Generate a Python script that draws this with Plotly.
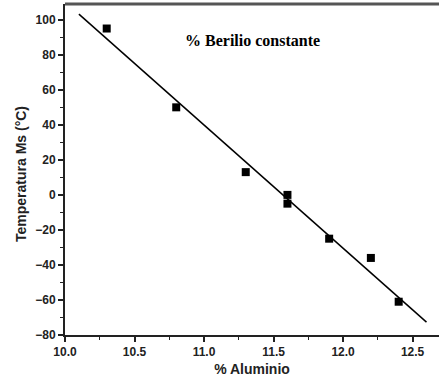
import numpy as np
import plotly.graph_objects as go

aluminio = [10.3, 10.8, 11.3, 11.6, 11.6, 11.9, 12.2, 12.4]
temperatura_ms = [95, 50, 13, 0, -5, -25, -36, -61]
fit_x = [10.1, 12.6]

slope, intercept = np.polyfit(aluminio, temperatura_ms, 1)
fit_y = [slope * x + intercept for x in fit_x]

x_ticks = [10.0, 10.5, 11.0, 11.5, 12.0, 12.5]
x_tick_labels = ["10.0", "10.5", "11.0", "11.5", "12.0", "12.5"]
y_ticks = [-80, -60, -40, -20, 0, 20, 40, 60, 80, 100]

fig = go.Figure()
fig.add_trace(go.Scatter(x=fit_x, y=fit_y, mode="lines",
                         line=dict(color="black", width=1.5), hoverinfo="skip"))
fig.add_trace(go.Scatter(x=aluminio, y=temperatura_ms, mode="markers",
                         marker=dict(symbol="square", size=8, color="black")))

sans = "Arial, Liberation Sans, sans-serif"
tick_font = dict(family=sans, size=12, color="#222", weight="bold")
title_font = dict(family=sans, size=14, color="#222", weight="bold")
PW, PH = 374, 331  # plot area size in px (439-65, 387-4-52)
fig.update_layout(
    width=439, height=387,
    margin=dict(l=65, r=0, t=4, b=52),
    paper_bgcolor="white", plot_bgcolor="white",
    showlegend=False,
    xaxis=dict(range=[10.0, 12.69], tickvals=x_ticks, ticktext=x_tick_labels,
               automargin=False,
               showgrid=False, zeroline=False, showline=True, linecolor="#222", linewidth=2,
               ticks="outside", ticklen=5, tickwidth=1.5, tickcolor="#222",
               tickfont=tick_font,
               minor=dict(dtick=0.25, ticks="outside", ticklen=3, tickwidth=1.2, tickcolor="#222"),
               title=dict(text="% Aluminio", font=title_font, standoff=6)),
    yaxis=dict(range=[-80, 109], tickvals=y_ticks,
               automargin=False,
               showgrid=False, zeroline=False, showline=True, linecolor="#222", linewidth=2,
               ticks="outside", ticklen=5, tickwidth=1.5, tickcolor="#222",
               tickfont=tick_font,
               minor=dict(dtick=10, ticks="outside", ticklen=3, tickwidth=1.2, tickcolor="#222")),
    annotations=[
        dict(text="% Berilio constante", x=(252 - 65) / PW, y=1 - (30 - 4) / PH,
             xref="paper", yref="paper", showarrow=False,
             font=dict(family="Liberation Serif, serif", size=16, color="black", weight="bold")),
        dict(text="Temperatura Ms (°C)", x=(21 - 65) / PW, y=1 - (174 - 4) / PH,
             xref="paper", yref="paper", showarrow=False, textangle=-90,
             xanchor="center", yanchor="middle", font=title_font),
    ],
    shapes=[dict(type="line", xref="paper", yref="paper", x0=0, x1=1, y0=1, y1=1,
                 line=dict(color="#555", width=3))],
)

fig.write_html("out.html", config={"displayModeBar": False},
               post_script="document.body.style.margin='0';")
